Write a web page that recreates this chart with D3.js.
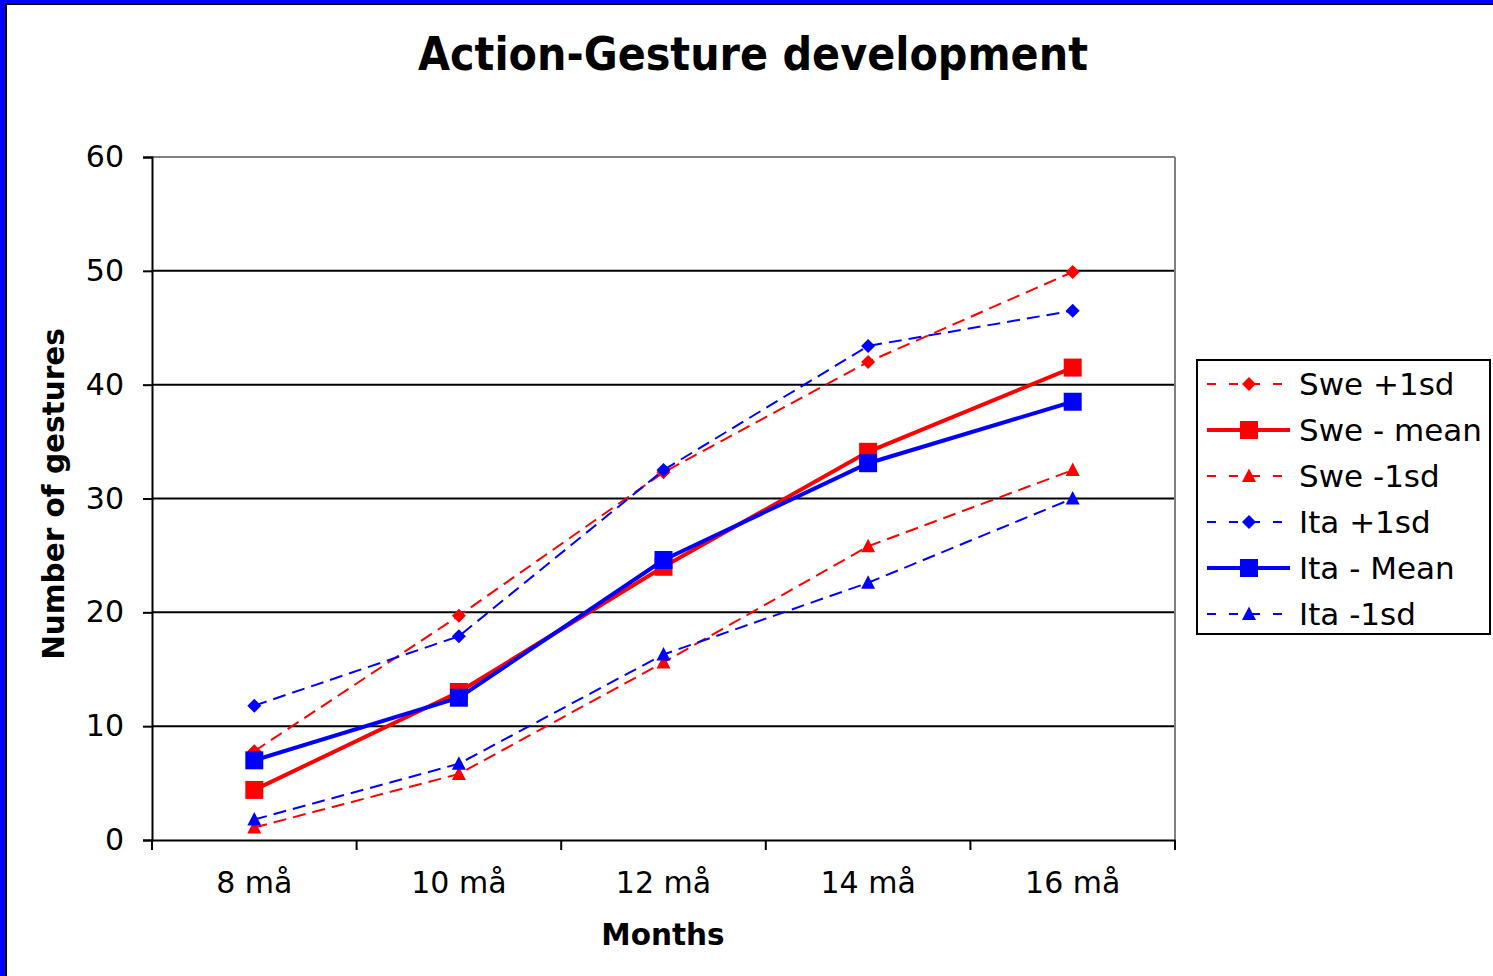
<!DOCTYPE html>
<html><head><meta charset="utf-8">
<script src="https://cdn.jsdelivr.net/npm/d3@7"></script>
<style>body{margin:0;background:#fff}svg{display:block}</style>
</head><body>
<script>
const categories = ["8 må","10 må","12 må","14 må","16 må"];
const sweP1 = [7.8, 19.7, 32.3, 42.0, 49.9];
const sweMean = [4.4, 13.0, 24.0, 34.1, 41.5];
const sweM1 = [1.1, 5.8, 15.6, 25.8, 32.5];
const itaP1 = [11.8, 17.9, 32.5, 43.4, 46.5];
const itaMean = [7.0, 12.5, 24.6, 33.1, 38.5];
const itaM1 = [1.8, 6.7, 16.3, 22.6, 30.0];
const yTicks = [0,10,20,30,40,50,60];

const series = [
  {name:"Swe +1sd", values:sweP1, color:"#ff0000", dashed:true, marker:"diamond"},
  {name:"Swe - mean", values:sweMean, color:"#ff0000", dashed:false, marker:"square"},
  {name:"Swe -1sd", values:sweM1, color:"#ff0000", dashed:true, marker:"triangle"},
  {name:"Ita +1sd", values:itaP1, color:"#0000ff", dashed:true, marker:"diamond"},
  {name:"Ita - Mean", values:itaMean, color:"#0000ff", dashed:false, marker:"square"},
  {name:"Ita -1sd", values:itaM1, color:"#0000ff", dashed:true, marker:"triangle"}
];

const W = 1493, H = 976;
const svg = d3.select("body").append("svg").attr("width", W).attr("height", H);
const font = "'DejaVu Sans', Verdana, sans-serif";

// frame
svg.append("rect").attr("x",0).attr("y",0).attr("width",W).attr("height",H).attr("fill","#fff");
svg.append("rect").attr("x",0).attr("y",0).attr("width",5).attr("height",H).attr("fill","#0000ff");
svg.append("rect").attr("x",0).attr("y",0).attr("width",W).attr("height",3).attr("fill","#0000ff");
svg.append("rect").attr("x",5).attr("y",3).attr("width",2).attr("height",H).attr("fill","#000");
svg.append("rect").attr("x",5).attr("y",3).attr("width",W).attr("height",2).attr("fill","#000");

const L = 152, R = 1175, T = 157, B = 840;
const x = d3.scaleBand().domain(categories).range([L, R]).padding(0);
const y = d3.scaleLinear().domain([0, 60]).range([B, T]);

// title
svg.append("text").attr("x", 753).attr("y", 70).attr("text-anchor","middle")
  .attr("font-family", "'DejaVu Sans Condensed', 'DejaVu Sans', sans-serif").attr("font-stretch","condensed")
  .attr("font-weight","bold").attr("font-size", 46).text("Action-Gesture development");

// gridlines
svg.append("g").selectAll("line").data(yTicks.filter(d => d > 0 && d < 60)).join("line")
  .attr("x1", L).attr("x2", R).attr("y1", d => y(d)).attr("y2", d => y(d))
  .attr("stroke", "#000").attr("stroke-width", 2);

// plot border top/right gray
svg.append("line").attr("x1", L).attr("x2", R).attr("y1", T).attr("y2", T).attr("stroke", "#808080").attr("stroke-width", 2);
svg.append("line").attr("x1", R).attr("x2", R).attr("y1", T).attr("y2", B).attr("stroke", "#808080").attr("stroke-width", 2);

// y axis
const yAxis = d3.axisLeft(y).tickValues(yTicks).tickSize(9).tickPadding(19);
const gy = svg.append("g").attr("transform", `translate(${L},0)`).call(yAxis);
gy.select(".domain").attr("stroke", "#000").attr("stroke-width", 2);
gy.selectAll(".tick line").attr("stroke", "#000").attr("stroke-width", 2);
gy.selectAll("text").attr("font-family", font).attr("font-size", 30).attr("fill", "#000");

// x axis
const xAxis = d3.axisBottom(x).tickSize(0).tickPadding(32);
const gx = svg.append("g").attr("transform", `translate(0,${B})`).call(xAxis);
gx.select(".domain").attr("stroke", "#000").attr("stroke-width", 2);
gx.selectAll("text").attr("font-family", font).attr("font-size", 30).attr("fill", "#000");
const bounds = categories.map(c => x(c)).concat([R]);
svg.append("g").selectAll("line").data(bounds).join("line")
  .attr("x1", d => d).attr("x2", d => d).attr("y1", B).attr("y2", B + 10)
  .attr("stroke", "#000").attr("stroke-width", 2);

// axis titles
svg.append("text").attr("transform", "translate(64,494) rotate(-90)").attr("text-anchor","middle")
  .attr("font-family", font).attr("font-weight","bold").attr("font-size", 29.5).text("Number of gestures");
svg.append("text").attr("x", 663).attr("y", 945).attr("text-anchor","middle")
  .attr("font-family", font).attr("font-weight","bold").attr("font-size", 29.5).text("Months");

function markerPath(type) {
  if (type === "square") return d3.symbol().type(d3.symbolSquare).size(324)();
  if (type === "diamond") return "M0,-7L7,0L0,7L-7,0Z";
  return "M0,-7.5L7,6L-7,6Z";
}

const cx = c => x(c) + x.bandwidth() / 2;
const line = d3.line().x((d, i) => cx(categories[i])).y(d => y(d));

const gs = svg.append("g").selectAll("g").data(series).join("g");
gs.append("path").attr("d", d => line(d.values)).attr("fill", "none")
  .attr("stroke", d => d.color).attr("stroke-width", d => d.dashed ? 2 : 4)
  .attr("stroke-dasharray", d => d.dashed ? "13,7" : null);
gs.each(function(s) {
  d3.select(this).selectAll("path.m").data(s.values).join("path").attr("class","m")
    .attr("d", markerPath(s.marker))
    .attr("transform", (d, i) => `translate(${cx(categories[i])},${y(d)})`)
    .attr("fill", s.color);
});

// legend
const lg = svg.append("g");
lg.append("rect").attr("x", 1197).attr("y", 360).attr("width", 293).attr("height", 274)
  .attr("fill", "#fff").attr("stroke", "#000").attr("stroke-width", 2);
const items = lg.selectAll("g.item").data(series).join("g").attr("class","item")
  .attr("transform", (d, i) => `translate(0,${384 + i * 46})`);
items.append("line").attr("x1", 1207).attr("x2", 1290).attr("y1", 0).attr("y2", 0)
  .attr("stroke", d => d.color).attr("stroke-width", d => d.dashed ? 2 : 4)
  .attr("stroke-dasharray", d => d.dashed ? "9,13" : null);
items.append("path").attr("d", d => markerPath(d.marker)).attr("transform", "translate(1249,0)")
  .attr("fill", d => d.color);
items.append("text").attr("x", 1299).attr("y", 11).attr("font-family", font).attr("font-size", 31)
  .text(d => d.name);
</script>
</body></html>
